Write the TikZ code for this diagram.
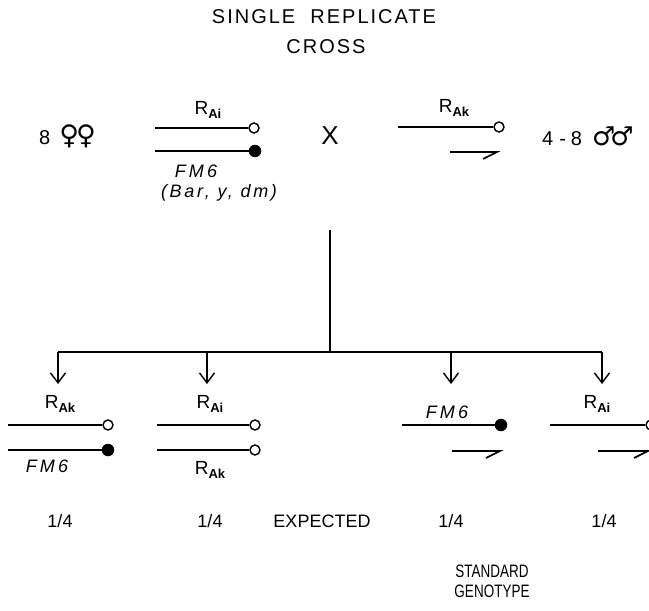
\documentclass[tikz,border=0pt]{standalone}
\usepackage{fontspec}
\setmainfont{Liberation Sans}
\newfontfamily\symbfont{DejaVu Sans}
\usetikzlibrary{positioning, arrows.meta}

% allele name with its subscript
\newcommand{\allele}[1]{R\raisebox{-0.4ex}{\fontsize{13}{13}\selectfont\bfseries #1}}

\begin{document}
\begin{tikzpicture}[x=1pt, y=-1pt,
    txt/.style={font=\fontsize{18}{20}\selectfont, anchor=base, inner sep=0pt},
    title/.style={font=\fontsize{20}{22}\selectfont\addfontfeature{LetterSpace=10}, inner sep=0pt},
    chname/.style={txt, font=\fontsize{18}{20}\selectfont\itshape\addfontfeature{LetterSpace=18}},
    opencen/.style={circle, draw, fill=white, line width=1.4pt, minimum size=10pt, inner sep=0pt},
    fullcen/.style={circle, fill=black, minimum size=12.5pt, inner sep=0pt},
    chrom/.style={line width=1.6pt},
    branch/.style={line width=1.6pt, -{Straight Barb[length=10pt, width=15pt, line width=1.4pt]}},
]
\clip (0,0) rectangle (649,611);

% Title
\node[title] (title1) at (324,17) {SINGLE\ \ REPLICATE};
\node[title] (title2) at (326,47) {CROSS};

% Parents
\node[txt, anchor=base west, font=\fontsize{20}{22}\selectfont] (fem) at (39,144) {8\hspace{9pt}{\symbfont\fontsize{27}{28}\selectfont ♀\kern-3pt♀}};

\coordinate (pa1) at (155,128);
\node[opencen] (pc1) at (254,128) {};
\draw[chrom] (pa1) -- (pc1);
\node[txt, font=\fontsize{19}{20}\selectfont] (pl1) at (208,114) {\allele{Ai}};
\coordinate (pa2) at (155,151);
\node[fullcen] (pc2) at (255,151) {};
\draw[chrom] (pa2) -- (pc2);
\node[chname] (pl2) at (196,177) {FM6};
\node[chname, font=\fontsize{18}{20}\selectfont\itshape\addfontfeature{LetterSpace=15}] (pl3) at (219,197) {(Bar, y, dm)};

\node[txt, anchor=center, font=\fontsize{26}{28}\selectfont] (cross) at (330,136) {X};

\coordinate (pa3) at (398,127);
\node[opencen] (pc3) at (499,127) {};
\draw[chrom] (pa3) -- (pc3);
\node[txt, font=\fontsize{19}{20}\selectfont] (pl4) at (454,112) {\allele{Ak}};
\coordinate (ph1) at (450,152);
\draw[chrom] (ph1) -- ++(47,0) -- ++(-14,7);

\node[txt, anchor=base west, font=\fontsize{20}{22}\selectfont] (male) at (542,145) {4\hspace{6pt}-\hspace{5pt}8\hspace{10pt}{\symbfont\fontsize{26}{28}\selectfont ♂\kern-5pt♂}};

% Branches
\coordinate (stemtop) at (330,230);
\coordinate (hub) at (330,352);
\draw[chrom] (stemtop) -- (hub);
\foreach \n/\x in {1/58, 2/207, 3/451, 4/602} {
  \coordinate (drop\n) at (\x,352);
  \coordinate (tip\n) at (\x,384);
}
\draw[chrom] (drop1) -- (drop4);
\foreach \n in {1,...,4}
  \draw[branch] (drop\n) -- (tip\n);

% Offspring 1
\node[txt, font=\fontsize{19}{20}\selectfont] (l1) at (60,408) {\allele{Ak}};
\coordinate (a1) at (8,425);
\node[opencen] (c1) at (108,425) {};
\draw[chrom] (a1) -- (c1);
\coordinate (b1) at (8,450);
\node[fullcen] (d1) at (108,450) {};
\draw[chrom] (b1) -- (d1);
\node[chname] (m1) at (47,472) {FM6};

% Offspring 2
\node[txt, font=\fontsize{19}{20}\selectfont] (l2) at (210,408) {\allele{Ai}};
\coordinate (a2) at (157,425);
\node[opencen] (c2) at (255,425) {};
\draw[chrom] (a2) -- (c2);
\coordinate (b2) at (157,450);
\node[opencen] (d2) at (255,450) {};
\draw[chrom] (b2) -- (d2);
\node[txt, font=\fontsize{19}{20}\selectfont] (m2) at (210,474) {\allele{Ak}};

% Offspring 3
\node[chname] (l3) at (447,418) {FM6};
\coordinate (a3) at (402,425);
\node[fullcen] (c3) at (501,425) {};
\draw[chrom] (a3) -- (c3);
\coordinate (h3) at (452,451);
\draw[chrom] (h3) -- ++(48,0) -- ++(-14,7);

% Offspring 4
\node[txt, font=\fontsize{19}{20}\selectfont] (l4) at (597,408) {\allele{Ai}};
\coordinate (a4) at (550,425);
\node[opencen] (c4) at (651,425) {};
\draw[chrom] (a4) -- (c4);
\coordinate (h4) at (598,451);
\draw[chrom] (h4) -- ++(50,0) -- ++(-14,7);

% Frequencies
\foreach \n/\x in {1/60, 2/210, 3/451, 4/604}
  \node[txt] (f\n) at (\x,527) {1/4};
\node[txt] (expd) at (322,527) {EXPECTED};
\node[txt] (std1) at (492,577) {\scalebox{0.75}[1]{STANDARD}};
\node[txt] (std2) at (492,597) {\scalebox{0.75}[1]{GENOTYPE}};

\end{tikzpicture}
\end{document}
